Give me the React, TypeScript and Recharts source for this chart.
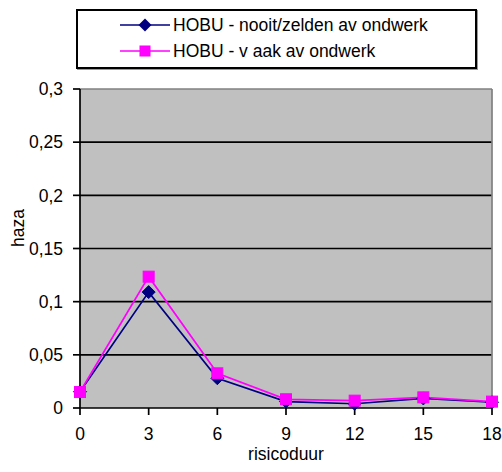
import React from 'react';
import { LineChart, Line, XAxis, YAxis, CartesianGrid, ReferenceLine } from 'recharts';

const durations = [0, 3, 6, 9, 12, 15, 18];
const nooitZelden = [0.0153, 0.109, 0.028, 0.006, 0.004, 0.009, 0.0054];
const vaak = [0.015, 0.1235, 0.0326, 0.0082, 0.0069, 0.01, 0.006];
const yTicks = [0, 0.05, 0.1, 0.15, 0.2, 0.25, 0.3];
const seriesNames = ['HOBU - nooit/zelden av ondwerk', 'HOBU - v aak av ondwerk'];

const data = durations.map((d, i) => ({ x: d, a: nooitZelden[i], b: vaak[i] }));

const FONT = '"Liberation Sans", Arial, sans-serif';
const FS = 17.5;
const NAVY = '#000080';
const MAGENTA = '#FF00FF';

const Diamond = (props: any) => {
  const { cx, cy } = props;
  if (cx == null || cy == null) return null;
  const r = 6.5;
  return <path d={`M${cx},${cy - r}L${cx + r},${cy}L${cx},${cy + r}L${cx - r},${cy}Z`} fill={NAVY} stroke={NAVY} strokeWidth={1} />;
};

const Square = (props: any) => {
  const { cx, cy } = props;
  if (cx == null || cy == null) return null;
  const s = 5.5;
  return <rect x={cx - s} y={cy - s} width={2 * s} height={2 * s} fill={MAGENTA} stroke={MAGENTA} strokeWidth={1} />;
};

const fmt = (v: number) => String(v).replace('.', ',');

export default function App() {
  return (
    <div style={{ position: 'absolute', left: 0, top: 0, width: 502, height: 472, background: '#fff' }}>
      <LineChart width={502} height={472} data={data} margin={{ top: 89, right: 10, bottom: 0, left: 0 }}>
        <CartesianGrid
          vertical={false}
          stroke="#000"
          strokeWidth={1.7}
          fill="#C0C0C0"
          fillOpacity={1}
          horizontalValues={[0.05, 0.1, 0.15, 0.2, 0.25]}
        />
        <XAxis
          dataKey="x"
          type="number"
          domain={[0, 18]}
          ticks={durations}
          interval={0}
          height={64}
          tickSize={7}
          tickMargin={13}
          axisLine={{ stroke: '#000', strokeWidth: 1.7 }}
          tickLine={{ stroke: '#000', strokeWidth: 1.7 }}
          tick={{ fill: '#000', fontSize: FS, fontFamily: FONT }}
          label={{ value: 'risicoduur', position: 'insideBottom', offset: 12, fill: '#000', fontSize: FS, fontFamily: FONT }}
        />
        <YAxis
          type="number"
          domain={[0, 0.3]}
          ticks={yTicks}
          interval={0}
          width={80}
          tickSize={7}
          tickMargin={10}
          tickFormatter={fmt}
          axisLine={{ stroke: '#000', strokeWidth: 1.7 }}
          tickLine={{ stroke: '#000', strokeWidth: 1.7 }}
          tick={{ fill: '#000', fontSize: FS, fontFamily: FONT }}
          label={{
            content: () => (
              <text x={24} y={228} transform="rotate(-90 24 228)" textAnchor="middle" fill="#000" fontSize={FS} fontFamily={FONT}>
                haza
              </text>
            ),
          }}
        />
        <ReferenceLine y={0.3} stroke="#808080" strokeWidth={1.7} />
        <ReferenceLine x={18} stroke="#808080" strokeWidth={1.7} />
        <Line dataKey="a" stroke={NAVY} strokeWidth={1.7} dot={<Diamond />} isAnimationActive={false} />
        <Line dataKey="b" stroke={MAGENTA} strokeWidth={1.7} dot={<Square />} isAnimationActive={false} />
      </LineChart>
      <div
        style={{
          position: 'absolute',
          left: 76,
          top: 9,
          width: 397,
          height: 56,
          border: '2px solid #000',
          boxShadow: '1px 1px 0 #999',
          background: '#fff',
          fontFamily: FONT,
          fontSize: FS,
          color: '#000',
        }}
      >
        {seriesNames.map((name, i) => (
          <div key={name} style={{ position: 'absolute', left: 42, top: i === 0 ? 3 : 29, height: 22, display: 'flex', alignItems: 'center', whiteSpace: 'pre' }}>
            <svg width={52} height={14} style={{ marginRight: 1 }}>
              <line x1={0} y1={7} x2={50} y2={7} stroke={i === 0 ? NAVY : MAGENTA} strokeWidth={1.7} />
              {i === 0 ? (
                <path d="M25,0.5L31.5,7L25,13.5L18.5,7Z" fill={NAVY} />
              ) : (
                <rect x={19.5} y={1.5} width={11} height={11} fill={MAGENTA} />
              )}
            </svg>
            <span>{name}</span>
          </div>
        ))}
      </div>
    </div>
  );
}
